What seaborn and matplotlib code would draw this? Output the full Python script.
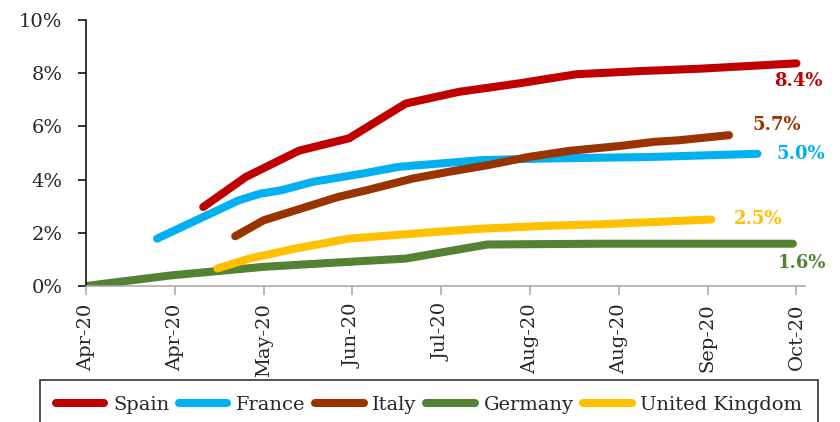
import matplotlib
matplotlib.use("Agg")
import matplotlib.pyplot as plt
import matplotlib.dates as mdates
from matplotlib.ticker import FuncFormatter
import pandas as pd
import seaborn as sns

# Cumulative share of population, by country (%)
countries = ["Spain", "France", "Italy", "Germany", "United Kingdom"]
colors = {"Spain": "#C00000", "France": "#00B0F0", "Italy": "#993300",
          "Germany": "#548235", "United Kingdom": "#FFC000"}

spain_dates = ["2020-05-04", "2020-05-16", "2020-05-31", "2020-06-14", "2020-06-30", "2020-07-15",
               "2020-08-01", "2020-08-17", "2020-09-04", "2020-09-21", "2020-10-18"]
spain_vals = [2.97, 4.10, 5.09, 5.55, 6.86, 7.30, 7.62, 7.96, 8.08, 8.17, 8.37]

france_dates = ["2020-04-21", "2020-05-14", "2020-05-20", "2020-05-26", "2020-06-04", "2020-06-18",
                "2020-06-28", "2020-07-12", "2020-07-21", "2020-08-07", "2020-09-07", "2020-10-07"]
france_vals = [1.78, 3.22, 3.47, 3.60, 3.92, 4.23, 4.48, 4.63, 4.73, 4.79, 4.85, 4.97]

italy_dates = ["2020-05-13", "2020-05-21", "2020-06-11", "2020-06-19", "2020-07-02", "2020-07-12",
               "2020-07-23", "2020-08-04", "2020-08-15", "2020-08-29", "2020-09-08", "2020-09-15",
               "2020-09-29"]
italy_vals = [1.87, 2.47, 3.35, 3.60, 4.04, 4.29, 4.54, 4.86, 5.08, 5.26, 5.42, 5.48, 5.67]

germany_dates = ["2020-04-01", "2020-04-25", "2020-05-21", "2020-06-09", "2020-06-30", "2020-07-23",
                 "2020-08-24", "2020-10-17"]
germany_vals = [0.0, 0.40, 0.72, 0.87, 1.03, 1.56, 1.59, 1.59]

uk_dates = ["2020-05-08", "2020-05-17", "2020-05-30", "2020-06-14", "2020-07-08", "2020-07-22",
            "2020-08-10", "2020-08-24", "2020-09-24"]
uk_vals = [0.66, 1.03, 1.41, 1.78, 2.03, 2.16, 2.27, 2.32, 2.50]

end_labels = ["8.4%", "5.0%", "5.7%", "1.6%", "2.5%"]
# offsets (points) of the end labels from the last point of each line
label_offsets = [(-16, -13), (14, 0), (17, 7), (-11, -14), (16.5, 0)]

tick_dates = pd.date_range("2020-04-01", periods=9, freq="25D")

series = {
    "Spain": (spain_dates, spain_vals),
    "France": (france_dates, france_vals),
    "Italy": (italy_dates, italy_vals),
    "Germany": (germany_dates, germany_vals),
    "United Kingdom": (uk_dates, uk_vals),
}
df = pd.concat([pd.DataFrame({"date": pd.to_datetime(d), "value": v, "country": c})
                for c, (d, v) in series.items()], ignore_index=True)

sns.set_theme(style="white")
plt.rcParams["font.family"] = ["DejaVu Serif"]

fig = plt.figure(figsize=(8.4, 4.22), dpi=100)
ax = fig.add_axes([86 / 840, 1 - 286 / 422, (805 - 86) / 840, (286 - 20) / 422])

sns.lineplot(data=df, x="date", y="value", hue="country", hue_order=countries,
             palette=colors, linewidth=5.8, solid_capstyle="round",
             estimator=None, legend=False, ax=ax)

for c, txt, off in zip(countries, end_labels, label_offsets):
    d, v = series[c]
    ax.annotate(txt, xy=(pd.Timestamp(d[-1]), v[-1]), xytext=off, textcoords="offset points",
                ha="left", va="center", color=colors[c], fontsize=13, fontweight="bold")

ax.set_ylim(0, 10)
ax.set_yticks(range(0, 11, 2))
ax.yaxis.set_major_formatter(FuncFormatter(lambda y, p: f"{y:.0f}%"))
ax.set_xlim(tick_dates[0], tick_dates[0] + pd.Timedelta(days=202.4))
ax.set_xticks(tick_dates)
ax.xaxis.set_major_formatter(mdates.DateFormatter("%b-%y"))
ax.set_xlabel("")
ax.set_ylabel("")

for s in ["top", "right"]:
    ax.spines[s].set_visible(False)
ax.spines["left"].set_color("black")
ax.spines["left"].set_linewidth(1.1)
ax.spines["bottom"].set_color("#A6A6A6")
ax.spines["bottom"].set_linewidth(1.1)
ax.tick_params(axis="y", direction="out", length=6, width=1.1, color="black",
               labelsize=14, pad=11, left=True)
ax.tick_params(axis="x", direction="out", length=6.5, width=1.1, color="#A6A6A6",
               labelsize=14, pad=6, labelrotation=90, bottom=True)

leg = fig.legend(ax.get_lines()[:5], countries, loc="upper left",
                 bbox_to_anchor=(40 / 840, 1 - 380 / 422, 778 / 840, 0.0), mode="expand",
                 borderaxespad=0, ncol=5, frameon=True, fancybox=False, edgecolor="black",
                 borderpad=0.8, handlelength=2.5, handletextpad=0.45, columnspacing=0.5,
                 fontsize=14)
leg.get_frame().set_linewidth(1.2)

fig.savefig("out.png", dpi=100)
